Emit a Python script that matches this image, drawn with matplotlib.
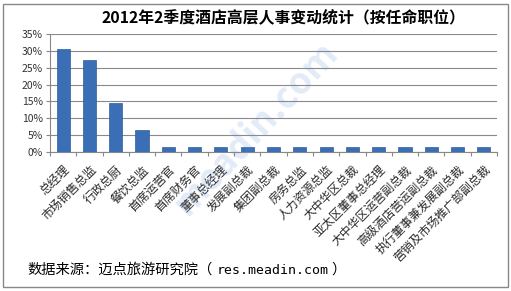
import matplotlib
matplotlib.use("Agg")
import matplotlib.pyplot as plt
from matplotlib.patches import Rectangle
from matplotlib.ticker import MultipleLocator, PercentFormatter

plt.rcParams['font.family'] = ['Noto Sans CJK SC', 'DejaVu Sans']

categories = ["总经理", "市场销售总监", "行政总厨", "餐饮总监", "首席运营官", "首席财务官",
              "董事总经理", "发展副总裁", "集团副总裁", "房务总监", "人力资源总监", "大中华区总裁",
              "亚太区董事总经理", "大中华区运营副总裁", "高级酒店营运副总裁", "执行董事兼发展副总裁",
              "营销及市场推广部副总裁"]
values = [30.6, 27.4, 14.5, 6.5, 1.6, 1.6, 1.6, 1.6, 1.6, 1.6, 1.6, 1.6, 1.6, 1.6, 1.6, 1.6, 1.6]
title = "2012年2季度酒店高层人事变动统计（按任命职位）"
source_cn = "数据来源：迈点旅游研究院（"
source_url = "res.meadin.com"
source_end = "）"

W, H = 511, 291
fig = plt.figure(figsize=(W/100, H/100), dpi=100)
fig.patch.set_facecolor("white")
fig.add_artist(Rectangle((3/W, 4/H), 505/W, 283/H, transform=fig.transFigure,
                         fill=False, edgecolor="#888888", lw=1))

ax = fig.add_axes([50/W, 1 - 152/H, 447/W, 118/H])
x = range(len(categories))
ax.bar(x, values, width=0.5, color="#3a6fb5", edgecolor="#2f5e9e", lw=0.5, zorder=3)
ax.set_xlim(-0.5, len(categories) - 0.5)
ax.set_ylim(0, 35)
ax.yaxis.set_major_locator(MultipleLocator(5))
ax.yaxis.set_major_formatter(PercentFormatter(decimals=0))
ax.grid(axis="y", color="#8a8a8a", lw=0.8, zorder=0)
for s in ["top", "right"]:
    ax.spines[s].set_visible(False)
ax.spines["left"].set_color("#888888")
ax.spines["bottom"].set_color("#888888")
ax.tick_params(axis="y", labelsize=7.5, length=3, color="#888888", pad=2, labelcolor="#333333")
ax.set_xticks([i - 0.5 for i in range(len(categories) + 1)], minor=False)
ax.set_xticklabels([])
ax.tick_params(axis="x", length=3, color="#888888", direction="out")
ax.set_xticks(list(x), minor=True)
ax.set_xticklabels(categories, minor=True, rotation=45, ha="right", rotation_mode="anchor",
                   fontsize=8.6, color="#2a2a2a")
ax.tick_params(axis="x", which="minor", length=0, pad=8)

fig.text(283/W, 1 - 17/H, title, ha="center", va="center", fontsize=11.4, fontweight="bold")

t1 = fig.text(27/W, 1 - 270/H, source_cn, ha="left", va="center", fontsize=10.3)
fig.canvas.draw()
bb = t1.get_window_extent()
t2 = fig.text((bb.x1 + 4) / W, 1 - 270/H, source_url, ha="left", va="center", fontsize=9.5,
              family="DejaVu Sans Mono")
fig.canvas.draw()
bb2 = t2.get_window_extent()
fig.text((bb2.x1 + 3) / W, 1 - 270/H, source_end, ha="left", va="center", fontsize=10.3)

fig.text(255/W, 1 - 128/H, "meadin.com", ha="center", va="center", fontsize=26,
         rotation=47, color="#5b8fd6", alpha=0.18, fontweight="bold")

fig.savefig("out.png", dpi=100, facecolor="white")
